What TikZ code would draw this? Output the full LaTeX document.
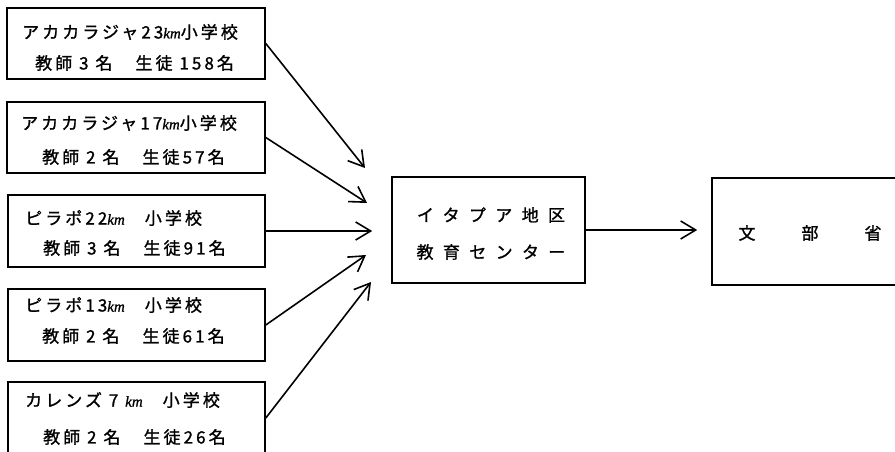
\documentclass[tikz,border=0pt]{standalone}
\usepackage{fontspec}
\usetikzlibrary{arrows.meta}
\newfontfamily\jp[LetterSpace=18,FakeBold=1.2]{Noto Sans CJK JP}
\newfontfamily\jpwide[LetterSpace=55,FakeBold=1.2]{Noto Sans CJK JP}
\newfontfamily\kmfont[FakeBold=1]{Liberation Serif}
\newcommand{\kmu}{{\kmfont\itshape\fontsize{15}{15}\selectfont km}}
\tikzset{
  box/.style={draw, line width=1.6pt, rectangle, inner sep=0pt},
  txt/.style={anchor=west, inner sep=0pt, font=\jp\fontsize{17}{19}\selectfont},
  ctxt/.style={inner sep=0pt, font=\jpwide\fontsize{17}{19}\selectfont},
  arr/.style={line width=1.6pt, -{Straight Barb[length=15pt,width=18pt,line width=1.6pt]}}
}
\begin{document}
\begin{tikzpicture}[x=1pt,y=-1pt]
\useasboundingbox (0,0) rectangle (895,452);
\clip (0,0) rectangle (895,452);
% left boxes
\node[box, minimum width=258pt, minimum height=71pt] (b1) at (136,43.5) {};
\node[box, minimum width=258pt, minimum height=71pt] (b2) at (136,137.5) {};
\node[box, minimum width=257pt, minimum height=72pt] (b3) at (136.5,231) {};
\node[box, minimum width=257pt, minimum height=72pt] (b4) at (136.5,325) {};
\node[box, minimum width=257pt, minimum height=72pt] (b5) at (136.5,418) {};
% center and right boxes
\node[box, minimum width=193pt, minimum height=106pt] (c) at (488.5,230) {};
\node[box, minimum width=193pt, minimum height=107pt] (r) at (808.5,231.5) {};
% texts
\node[txt] (b1a) at (22,32) {アカカラジャ23\kmu 小学校};
\node[txt] (b1b) at (35,63) {教師 3 名　生徒 158名};
\node[txt] (b2a) at (21,123) {アカカラジャ17\kmu 小学校};
\node[txt] (b2b) at (42,157) {教師 2 名　生徒57名};
\node[txt] (b3a) at (25,218) {ピラポ22\kmu 　小学校};
\node[txt] (b3b) at (43,248) {教師 3 名　生徒91名};
\node[txt] (b4a) at (25,305) {ピラポ13\kmu 　小学校};
\node[txt] (b4b) at (42,336) {教師 2 名　生徒61名};
\node[txt] (b5a) at (25,400) {カレンズ 7 \kmu 　小学校};
\node[txt] (b5b) at (43,437) {教師 2 名　生徒26名};
\node[ctxt] (ca) at (491,215) {イタプア地区};
\node[ctxt] (cb) at (491,252) {教育センター};
\node[txt, anchor=center] (r1) at (747,233) {文};
\node[txt, anchor=center] (r2) at (810,233) {部};
\node[txt, anchor=center] (r3) at (873,233) {省};
% arrow tips
\coordinate (t1) at (365,168);
\coordinate (t2) at (367,203);
\coordinate (t4) at (366,255);
\coordinate (t5) at (371,282);
\draw[arr] (b1.east) -- (t1);
\draw[arr] (b2.east) -- (t2);
\draw[arr, shorten >=19pt] (b3.east) -- (b3.east -| c.west);
\draw[arr] (b4.east) -- (t4);
\draw[arr] (b5.east) -- (t5);
\draw[arr, shorten >=14pt] (c.east) -- (c.east -| r.west);
\end{tikzpicture}
\end{document}
